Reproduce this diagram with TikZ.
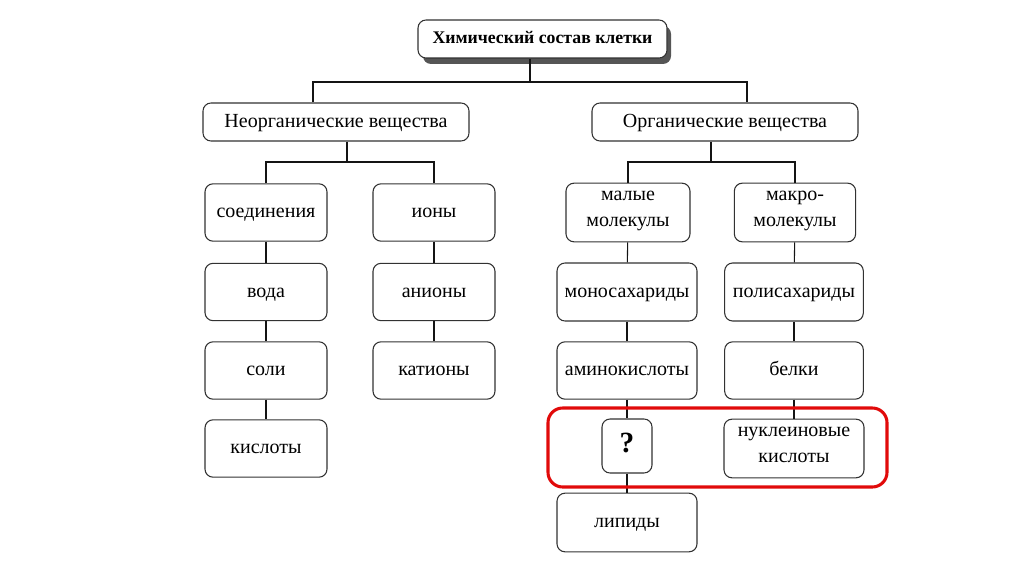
\documentclass[tikz,border=0pt]{standalone}
\usepackage{fontspec}
\setmainfont{Liberation Serif}
\usetikzlibrary{arrows}

\begin{document}
\begin{tikzpicture}[x=0.75pt,y=0.75pt,yscale=-1,xscale=1,
  cell/.style={draw={rgb, 255:red, 50; green, 50; blue, 50}, line width=0.8pt, rounded corners=6pt,
    fill=white, align=center, inner sep=0pt, font=\fontsize{15}{19.5}\selectfont,
    execute at begin node=\strut, execute at end node=\strut},
  link/.style={color={rgb, 255:red, 20; green, 20; blue, 20}, line width=0.8pt}]
\useasboundingbox (0,0) rectangle (1024,574);

%Shadow of the title
\fill [color={rgb, 255:red, 85; green, 85; blue, 85}, rounded corners=6pt] (423,26) rectangle (671,64);
%Title
\node [cell, minimum width=186.75pt, minimum height=28.5pt, font=\fontsize{13.3}{16}\selectfont\bfseries] (title) at (542.5,39) {Химический состав клетки};

%Level 1
\node [cell, minimum width=199.5pt, minimum height=28.5pt] (neorg) at (336,122) {Неорганические вещества};
\node [cell, minimum width=199.5pt, minimum height=28.5pt] (org) at (725,122) {Органические вещества};

%Inorganic columns
\node [cell, minimum width=91.5pt, minimum height=43pt] (soed) at (266,212.5) {соединения};
\node [cell, minimum width=91.5pt, minimum height=43pt] (voda) at (266,292) {вода};
\node [cell, minimum width=91.5pt, minimum height=43pt] (soli) at (266,370.5) {соли};
\node [cell, minimum width=91.5pt, minimum height=43pt] (kisloty) at (266,448.5) {кислоты};
\node [cell, minimum width=91.5pt, minimum height=43pt] (iony) at (434,212.5) {ионы};
\node [cell, minimum width=91.5pt, minimum height=43pt] (aniony) at (434,292) {анионы};
\node [cell, minimum width=91.5pt, minimum height=43pt] (kationy) at (434,370.5) {катионы};

%Organic columns
\node [cell, minimum width=93pt, minimum height=44pt] (malye) at (628,212.5) {малые\\молекулы};
\node [cell, minimum width=105pt, minimum height=43.5pt] (mono) at (627,292) {моносахариды};
\node [cell, minimum width=105pt, minimum height=43pt] (amino) at (627,370.5) {аминокислоты};
\node [cell, minimum width=37.5pt, minimum height=40.5pt, font=\fontsize{22}{24}\selectfont\bfseries] (q) at (627,446) {?};
\node [cell, minimum width=105pt, minimum height=44pt] (lipidy) at (627,522.5) {липиды};
\node [cell, minimum width=91pt, minimum height=44pt] (makro) at (795,212.5) {макро-\\молекулы};
\node [cell, minimum width=104pt, minimum height=43.5pt] (poli) at (794,292) {полисахариды};
\node [cell, minimum width=104pt, minimum height=43pt] (belki) at (794,370.5) {белки};
\node [cell, minimum width=105pt, minimum height=44pt] (nukl) at (794,448.5) {нуклеиновые\\кислоты};

%Branch points
\coordinate (tj) at (530,82);
\coordinate (tl) at (313,82);
\coordinate (tr) at (747,82);
\coordinate (nj) at (347,162);
\coordinate (oj) at (711,162);

%Straight Lines
\draw [link] (tj |- title.south) -- (tj);
\draw [link] (tl |- neorg.north) -- (tl) -- (tr) -- (tr |- org.north);
\draw [link] (nj |- neorg.south) -- (nj);
\draw [link] (soed.north) |- (nj) -| (iony.north);
\draw [link] (oj |- org.south) -- (oj);
\draw [link] (malye.north) |- (oj) -| (makro.north);
\foreach \a/\b in {soed/voda, voda/soli, soli/kisloty, iony/aniony, aniony/kationy,
  malye/mono, mono/amino, amino/q, q/lipidy, makro/poli, poli/belki, belki/nukl}
  \draw [link] (\a) -- (\b);

%Red frame
\draw [color={rgb, 255:red, 225; green, 10; blue, 10}, line width=2.3pt, rounded corners=11pt] (548,408) rectangle (887,487);

\end{tikzpicture}
\end{document}
